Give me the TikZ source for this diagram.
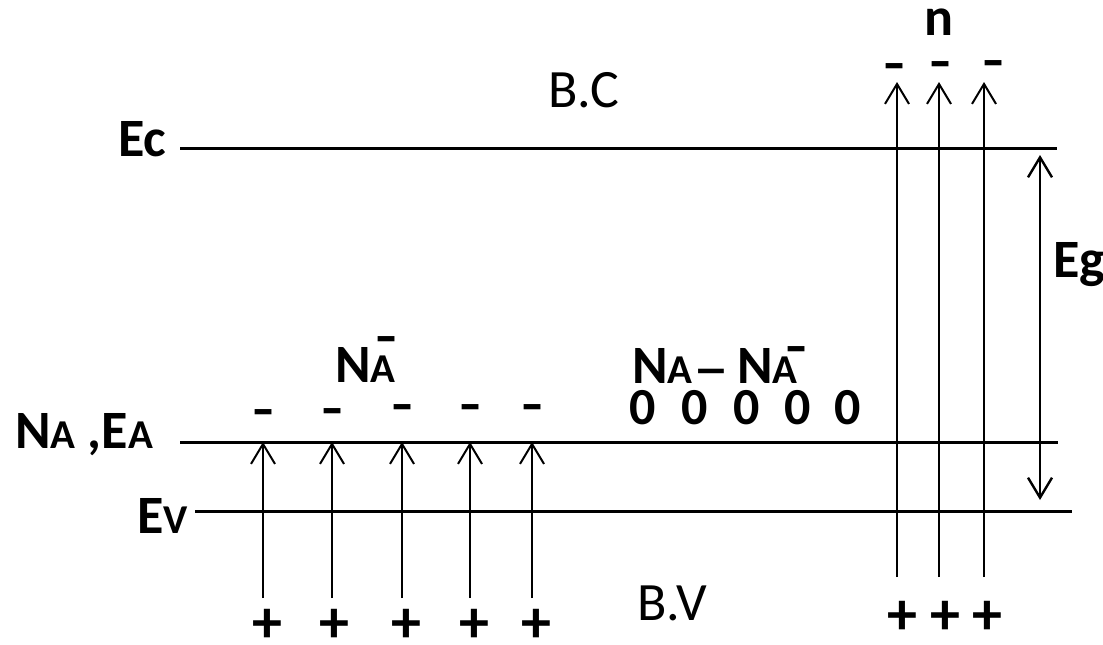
\documentclass[tikz,border=0pt]{standalone}
\usepackage{fontspec}
\setmainfont{Carlito}
\usetikzlibrary{arrows.meta}
\newcommand\smallpart[1]{{\fontsize{41}{48}\selectfont #1}}
\begin{document}
\begin{tikzpicture}[x=1pt,y=-1pt,
  lbl/.style={font=\fontsize{54}{60}\selectfont\bfseries, inner sep=0, anchor=base west},
  lblreg/.style={font=\fontsize{54}{60}\selectfont, inner sep=0, anchor=base west},
  chg/.style={font=\fontsize{60}{60}\selectfont\bfseries, inner sep=0, anchor=center},
  minus/.style={font=\fontsize{72}{72}\selectfont, inner sep=0, anchor=center},
  level/.style={line width=3pt},
  upar/.style={line width=2pt, -{Straight Barb[length=20pt,width=24pt]}},
  gapar/.style={line width=2.4pt, {Straight Barb[length=20pt,width=24pt]}-{Straight Barb[length=20pt,width=24pt]}}]
\useasboundingbox (0,0) rectangle (1103,645);

% energy levels
\coordinate (ecL) at (180,148); \coordinate (ecR) at (1057,148);
\coordinate (naL) at (180,442); \coordinate (naR) at (1058,442);
\coordinate (evL) at (195,511); \coordinate (evR) at (1072,511);
\draw[level] (ecL) -- (ecR);
\draw[level] (naL) -- (naR);
\draw[level] (evL) -- (evR);

% labels of levels
\node[lbl] (ec) at (118,156) {Ec};
\node[lbl] (naea) at (15,448) {N\smallpart{A} ,E\smallpart{A}};
\node[lbl] (ev) at (137,533) {E\smallpart{V}};
\node[lblreg] (bc) at (548,107) {B.C};
\node[lblreg] (bv) at (637,620) {B.V};
\node[lbl] (eg) at (1053,277) {Eg};
\node[lbl] (n) at (924,35) {n};

% acceptor labels
\node[lbl] (na1) at (335,382) {N\smallpart{A}};
\node[minus] (na1m) at (387,348.5) {-};
\node[lbl] (na2) at (632,383) {N\smallpart{A}};
\node[font=\fontsize{72}{72}\selectfont, inner sep=0, anchor=center] (dash) at (711,380) {–};
\node[lbl] (na3) at (737,383) {N\smallpart{A}};
\node[minus] (na3m) at (797,358.5) {-};
\foreach \i/\x in {1/643,2/695,3/747,4/798,5/848}
  \node[font=\fontsize{52}{60}\selectfont\bfseries, inner sep=0, anchor=base] (z\i) at (\x,424) {0};

% left transitions
\foreach \i/\x/\my in {1/263/408,2/332/407,3/402/403,4/470/403,5/532/403}{
  \coordinate (lb\i) at (\x,598);
  \coordinate (lt\i) at (\x,442);
  \draw[upar] (lb\i) -- (lt\i);
  \node[minus] (lm\i) at (\x+1,\my+13.5) {-};
}
\foreach \i/\x in {1/267,2/334,3/406,4/474,5/536}
  \node[chg] (lp\i) at (\x,626) {+};

% right transitions
\foreach \i/\x/\mx/\my in {1/897/895/62,2/939/941/60,3/984/994/59}{
  \coordinate (rb\i) at (\x,577);
  \coordinate (rt\i) at (\x,82);
  \draw[upar] (rb\i) -- (rt\i);
  \node[minus] (rm\i) at (\mx,\my+13.5) {-};
}
\foreach \i/\x in {1/902,2/945,3/987}
  \node[chg] (rp\i) at (\x,618) {+};

% gap arrow
\coordinate (gt) at (1040,155);
\coordinate (gb) at (1040,500);
\draw[gapar] (gt) -- (gb);
\end{tikzpicture}
\end{document}
